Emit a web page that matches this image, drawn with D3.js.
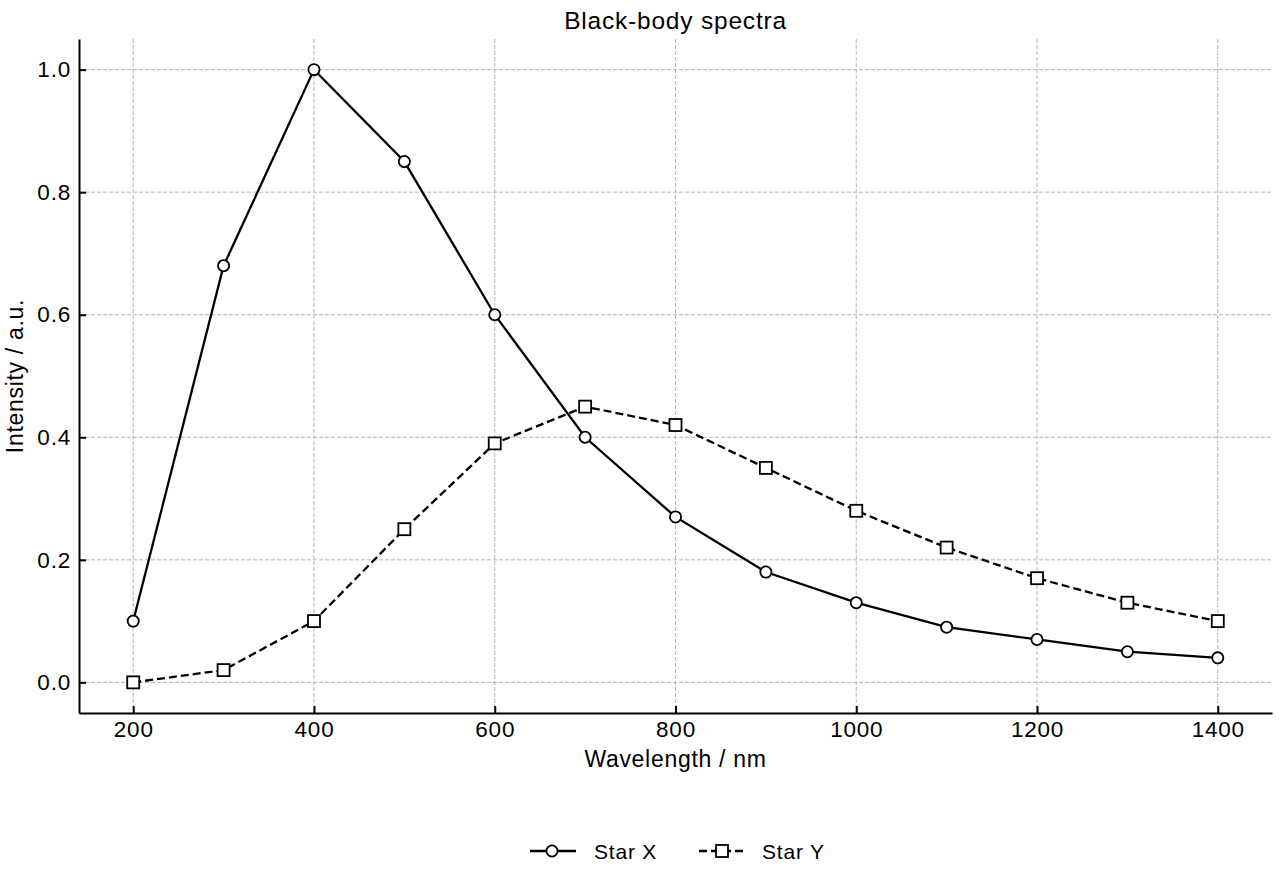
<!DOCTYPE html>
<html>
<head>
<meta charset="utf-8">
<script src="https://cdn.jsdelivr.net/npm/d3@7"></script>
<style>
  body { margin: 0; background: #fff; }
  text { font-family: "Liberation Sans", Arial, sans-serif; fill: #000; }
</style>
</head>
<body>
<div id="chart"></div>
<script>
  const wavelengths = [200, 300, 400, 500, 600, 700, 800, 900, 1000, 1100, 1200, 1300, 1400];
  const starX = [0.10, 0.68, 1.00, 0.85, 0.60, 0.40, 0.27, 0.18, 0.13, 0.09, 0.07, 0.05, 0.04];
  const starY = [0.00, 0.02, 0.10, 0.25, 0.39, 0.45, 0.42, 0.35, 0.28, 0.22, 0.17, 0.13, 0.10];
  const xTicks = [200, 400, 600, 800, 1000, 1200, 1400];
  const yTicks = [0.0, 0.2, 0.4, 0.6, 0.8, 1.0];

  const svgWidth = 1280;
  const svgHeight = 880;
  const margin = { top: 39, right: 8, bottom: 167, left: 79 };
  const fontStack = "'Liberation Sans', Arial, sans-serif";

  const svg = d3.select("#chart")
    .append("svg")
    .attr("width", svgWidth)
    .attr("height", svgHeight);

  const xScale = d3.scaleLinear()
    .domain([140, 1460])
    .range([margin.left, svgWidth - margin.right]);

  const yScale = d3.scaleLinear()
    .domain([-0.05, 1.05])
    .range([svgHeight - margin.bottom, margin.top]);

  // grid
  const grid = svg.append("g").attr("stroke", "#b4b4b4").attr("stroke-width", 1)
    .attr("stroke-dasharray", "4,2");
  grid.selectAll(".gx").data(xTicks).enter().append("line")
    .attr("x1", d => xScale(d)).attr("x2", d => xScale(d))
    .attr("y1", margin.top).attr("y2", svgHeight - margin.bottom);
  grid.selectAll(".gy").data(yTicks).enter().append("line")
    .attr("y1", d => yScale(d)).attr("y2", d => yScale(d))
    .attr("x1", margin.left).attr("x2", svgWidth - margin.right);

  // axes, ticks pointing inward
  const xAxis = svg.append("g")
    .attr("transform", `translate(0, ${svgHeight - margin.bottom})`)
    .call(d3.axisBottom(xScale).tickValues(xTicks).tickFormat(d3.format("d"))
      .tickSizeOuter(0).tickSizeInner(-7).tickPadding(8));
  const yAxis = svg.append("g")
    .attr("transform", `translate(${margin.left}, 0)`)
    .call(d3.axisLeft(yScale).tickValues(yTicks).tickFormat(d3.format(".1f"))
      .tickSizeOuter(0).tickSizeInner(-7).tickPadding(8));

  [xAxis, yAxis].forEach(a => {
    a.select(".domain").attr("stroke-width", 2).attr("stroke", "#000");
    a.selectAll(".tick line").attr("stroke-width", 2).attr("stroke", "#000");
    a.selectAll(".tick text").style("font-size", "22.5px").style("letter-spacing", "0.8px")
      .attr("fill", "#000").style("font-family", fontStack);
  });

  // lines
  const lineGen = d3.line().x(d => xScale(d[0])).y(d => yScale(d[1]));
  const seriesX = wavelengths.map((w, i) => [w, starX[i]]);
  const seriesY = wavelengths.map((w, i) => [w, starY[i]]);

  svg.append("path").datum(seriesX)
    .attr("d", lineGen).attr("fill", "none").attr("stroke", "#000").attr("stroke-width", 2.3);
  svg.append("path").datum(seriesY)
    .attr("d", lineGen).attr("fill", "none").attr("stroke", "#000").attr("stroke-width", 2.3)
    .attr("stroke-dasharray", "8,4");

  svg.selectAll(".mx").data(seriesX).enter().append("circle")
    .attr("cx", d => xScale(d[0])).attr("cy", d => yScale(d[1])).attr("r", 5.6)
    .attr("fill", "#fff").attr("stroke", "#000").attr("stroke-width", 1.8);
  svg.selectAll(".my").data(seriesY).enter().append("rect")
    .attr("x", d => xScale(d[0]) - 6).attr("y", d => yScale(d[1]) - 6)
    .attr("width", 12).attr("height", 12)
    .attr("fill", "#fff").attr("stroke", "#000").attr("stroke-width", 1.8);

  // titles
  const midX = (margin.left + svgWidth - margin.right) / 2;
  svg.append("text").attr("x", midX).attr("y", 29)
    .attr("text-anchor", "middle").style("font-size", "24.5px").style("letter-spacing", "0.8px")
    .text("Black-body spectra");
  svg.append("text").attr("x", midX).attr("y", 767)
    .attr("text-anchor", "middle").style("font-size", "23px").style("letter-spacing", "0.7px")
    .text("Wavelength / nm");
  svg.append("text").attr("transform", `translate(23, ${(margin.top + svgHeight - margin.bottom) / 2}) rotate(-90)`)
    .attr("text-anchor", "middle").style("font-size", "23px").style("letter-spacing", "0.7px")
    .text("Intensity / a.u.");

  // legend
  const legend = svg.append("g").attr("transform", "translate(0, 851)");
  const lx = legend.append("g").attr("transform", "translate(530, 0)");
  lx.append("line").attr("x1", 0).attr("x2", 46).attr("stroke", "#000").attr("stroke-width", 2.3);
  lx.append("circle").attr("cx", 22).attr("r", 5.6).attr("fill", "#fff").attr("stroke", "#000").attr("stroke-width", 1.8);
  lx.append("text").attr("x", 64).attr("y", 8).style("font-size", "21px").style("letter-spacing", "0.8px").text("Star X");
  const ly = legend.append("g").attr("transform", "translate(699, 0)");
  ly.append("line").attr("x1", 0).attr("x2", 46).attr("stroke", "#000").attr("stroke-width", 2.3)
    .attr("stroke-dasharray", "8,4");
  ly.append("rect").attr("x", 17).attr("y", -6).attr("width", 12).attr("height", 12)
    .attr("fill", "#fff").attr("stroke", "#000").attr("stroke-width", 1.8);
  ly.append("text").attr("x", 63).attr("y", 8).style("font-size", "21px").style("letter-spacing", "0.8px").text("Star Y");
</script>
</body>
</html>
